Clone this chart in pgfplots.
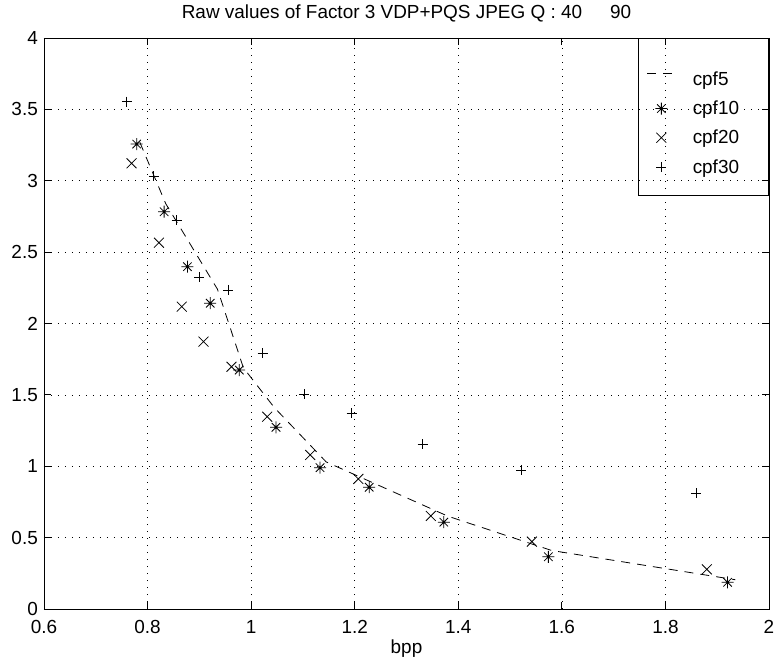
\documentclass[border=0pt]{standalone}
\usepackage{fontspec}
\setmainfont{Liberation Sans}
\usepackage{pgfplots}
\pgfplotsset{compat=1.18}

% matlab style '*' : a + and an x on top of each other
\pgfdeclareplotmark{mstar}{%
  \pgfpathmoveto{\pgfqpoint{-\pgfplotmarksize}{0pt}}%
  \pgfpathlineto{\pgfqpoint{\pgfplotmarksize}{0pt}}%
  \pgfpathmoveto{\pgfqpoint{0pt}{-\pgfplotmarksize}}%
  \pgfpathlineto{\pgfqpoint{0pt}{\pgfplotmarksize}}%
  \pgfpathmoveto{\pgfqpoint{-.70710678\pgfplotmarksize}{-.70710678\pgfplotmarksize}}%
  \pgfpathlineto{\pgfqpoint{.70710678\pgfplotmarksize}{.70710678\pgfplotmarksize}}%
  \pgfpathmoveto{\pgfqpoint{-.70710678\pgfplotmarksize}{.70710678\pgfplotmarksize}}%
  \pgfpathlineto{\pgfqpoint{.70710678\pgfplotmarksize}{-.70710678\pgfplotmarksize}}%
  \pgfusepathqstroke}

\pgfplotsset{
  marklegend/.style={legend image code/.code={%
    \draw[mark repeat=2,mark phase=2,##1] plot coordinates {(0bp,0bp) (14bp,0bp) (28bp,0bp)};}},
  dashlegend/.style={legend image code/.code={%
    \draw[##1] (0bp,0bp) -- (25bp,0bp);}},
}

\newcommand{\lbl}{\fontsize{19}{22}\selectfont}

\begin{document}
\begin{tikzpicture}
\begin{axis}[
  name=ax,
  scale only axis, width=725bp, height=571bp,
  xmin=0.6, xmax=2, ymin=0, ymax=4,
  xtick={0.6,0.8,1,1.2,1.4,1.6,1.8,2},
  ytick={0,0.5,1,1.5,2,2.5,3,3.5,4},
  grid=major,
  major grid style={black, line width=0.6bp, dash pattern=on 0.7bp off 6.3bp},
  tick align=inside, major tick length=7bp,
  tick style={black, line width=0.8bp},
  axis line style={black, line width=0.9bp},
  /pgf/number format/assume math mode=true,
  ticklabel style={font=\lbl, inner sep=0pt},
  xticklabel style={anchor=base, yshift=-24bp},
  yticklabel style={anchor=east, xshift=-6bp},
  title={Raw values of Factor 3 VDP+PQS JPEG Q : 40\hspace{28bp}90},
  title style={font=\lbl, at={(0.5,1)}, anchor=base, yshift=14bp, inner sep=0pt},
  xlabel={bpp},
  xlabel style={font=\lbl, at={(0.5,0)}, anchor=base, yshift=-44bp, inner sep=0pt},
  legend style={at={(1,1)}, anchor=north east, draw=black, line width=0.9bp,
    fill=none, font=\lbl, inner xsep=8bp, inner ysep=21bp,
    row sep=14bp, column sep=20bp, nodes={inner sep=0pt}},
  legend cell align=left,
  every axis plot/.append style={black, line width=0.8bp},
]
\addplot[dash pattern=on 9bp off 7bp, no marks, dashlegend]
  coordinates {(0.785,3.27) (0.835,2.84) (0.935,2.24) (0.985,1.69) (1.045,1.41)
    (1.145,1.03) (1.38,0.65) (1.58,0.41) (1.935,0.205)};
\addplot[only marks, mark=mstar, mark size=6bp, marklegend]
  coordinates {(0.779,3.257) (0.832,2.783) (0.877,2.398) (0.921,2.142) (0.977,1.674)
    (1.048,1.273) (1.133,0.990) (1.228,0.853) (1.372,0.608) (1.574,0.366) (1.920,0.187)};
\addplot[only marks, mark=x, mark size=7bp, marklegend]
  coordinates {(0.769,3.122) (0.822,2.566) (0.866,2.118) (0.908,1.873) (0.962,1.697)
    (1.031,1.347) (1.114,1.079) (1.207,0.911) (1.347,0.652) (1.542,0.472) (1.880,0.278)};
\addplot[only marks, mark=+, mark size=5bp, marklegend]
  coordinates {(0.760,3.554) (0.812,3.033) (0.856,2.725) (0.900,2.324) (0.956,2.235)
    (1.022,1.791) (1.102,1.506) (1.194,1.371) (1.331,1.154) (1.522,0.974) (1.859,0.811)};
\legend{\rule{0pt}{26bp}cpf5, cpf10\hspace*{21.5bp}, cpf20, cpf30}
\end{axis}
\path (ax.south west) ++(-44bp,-52bp) rectangle ([xshift=7bp,yshift=38bp]ax.north east);
\end{tikzpicture}
\end{document}
